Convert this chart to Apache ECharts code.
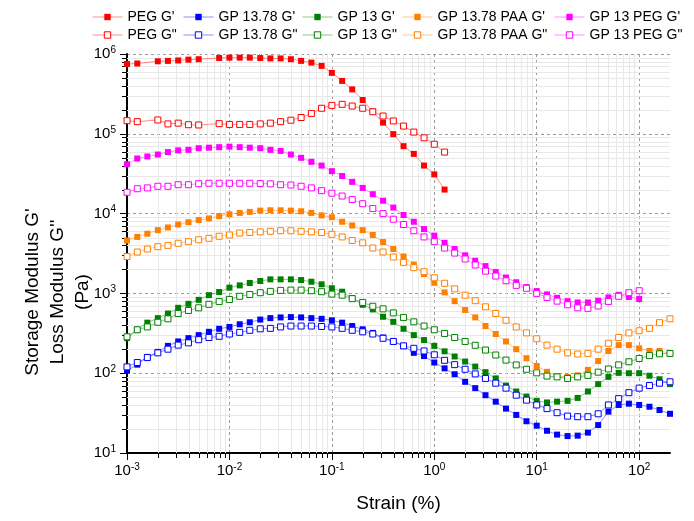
<!DOCTYPE html>
<html>
<head>
<meta charset="utf-8">
<script src="https://cdn.jsdelivr.net/npm/echarts@6/dist/echarts.min.js"></script>
<style>
  html, body { margin: 0; padding: 0; background: #fff; }
  #chart { width: 694px; height: 521px; }
</style>
</head>
<body>
<div id="chart"></div>
<script>
// Strain amplitude sweep points (%), ten per decade
const strain = [
  0.001, 0.00126, 0.00158, 0.002, 0.00251, 0.00316, 0.00398, 0.00501, 0.00631, 0.00794,
  0.01, 0.0126, 0.0158, 0.02, 0.0251, 0.0316, 0.0398, 0.0501, 0.0631, 0.0794,
  0.1, 0.126, 0.158, 0.2, 0.251, 0.316, 0.398, 0.501, 0.631, 0.794,
  1, 1.26, 1.58, 2, 2.51, 3.16, 3.98, 5.01, 6.31, 7.94,
  10, 12.6, 15.8, 20, 25.1, 31.6, 39.8, 50.1, 63.1, 79.4,
  100, 126, 158, 200
];

// Storage modulus G' (Pa)
const pegStorage = [
  7.5e5, 7.6e5, null, 8.1e5, 8.2e5, 8.3e5, 8.5e5, 8.6e5, null, 8.9e5,
  9.0e5, 9.0e5, 9.0e5, 8.9e5, 8.8e5, 8.8e5, 8.6e5, 8.2e5, 7.8e5, 7.1e5,
  5.8e5, 4.6e5, 3.6e5, 2.65e5, 1.9e5, 1.38e5, 9.9e4, 7.0e4, 5.6e4, 4.0e4,
  3.1e4, 2.0e4
];
const gp1378Storage = [
  108, 128, 160, 185, 220, 250, 275, 300, 330, 360,
  380, 410, 435, 470, 490, 500, 505, 500, 490, 480,
  460, 430, 390, 355, 320, 280, 250, 220, 180, 164,
  136, 115, 97, 78, 65, 53, 44, 36, 30, 25,
  22, 19, 17, 16.3, 16.5, 18, 22.4, 33, 40, 41.5,
  40, 38, 34.6, 31
];
const gp13Storage = [
  275, 350, 430, 490, 560, 660, 740, 830, 950, 1040,
  1180, 1260, 1350, 1430, 1500, 1500, 1500, 1470, 1400, 1300,
  1160, 1050, 870, 720, 630, 510, 440, 360, 300, 260,
  220, 188, 162, 140, 121, 103, 86, 70, 59, 51,
  45, 43, 44, 45, 49, 59, 73, 90, 101, 100,
  100, 93, 84, 73
];
const gp1378PaaStorage = [
  4600, 5100, 5600, 6200, 6700, 7300, 7800, 8300, 8700, 9300,
  9800, 10200, 10500, 10900, 11000, 11000, 10900, 10700, 10200, 9500,
  9000, 7900, 7100, 6200, 5400, 4400, 3600, 2900, 2300, 1750,
  1360, 1030, 800, 620, 500, 390, 310, 250, 200, 154,
  123, 104, 92, 90, 94, 110, 142, 190, 225, 225,
  205, 190, 190, 177
];
const gp13PegStorage = [
  4.15e4, 4.9e4, 5.2e4, 5.5e4, 5.9e4, 6.2e4, 6.3e4, 6.6e4, 6.7e4, 6.8e4,
  6.9e4, 6.8e4, 6.7e4, 6.6e4, 6.3e4, 6.1e4, 5.5e4, 5.0e4, 4.45e4, 4.0e4,
  3.4e4, 2.96e4, 2.5e4, 2.1e4, 1.75e4, 1.45e4, 1.19e4, 9600, 7900, 6400,
  5300, 4300, 3600, 3000, 2570, 2200, 1850, 1580, 1380, 1200,
  1070, 970, 880, 800, 770, 770, 810, 890, 960, 900,
  850
];

// Loss modulus G'' (Pa)
const pegLoss = [
  1.46e5, 1.42e5, null, 1.49e5, 1.33e5, 1.36e5, 1.30e5, 1.29e5, null, 1.34e5,
  1.31e5, 1.31e5, 1.31e5, 1.33e5, 1.36e5, 1.42e5, 1.48e5, 1.6e5, 1.8e5, 2.09e5,
  2.27e5, 2.34e5, 2.23e5, 2.09e5, 1.89e5, 1.67e5, 1.45e5, 1.25e5, 1.05e5, 8.9e4,
  7.4e4, 5.9e4
];
const gp1378Loss = [
  120, 136, 157, 180, 200, 225, 240, 263, 280, 290,
  310, 325, 345, 360, 365, 380, 390, 390, 390, 385,
  380, 365, 345, 330, 310, 274, 250, 220, 205, 190,
  170, 145, 128, 112, 98, 86, 75, 65, 53, 46,
  40, 36, 32, 29, 28.5, 28.5, 31, 40, 48, 57,
  65, 70, 75, 78
];
const gp13Loss = [
  286, 350, 380, 435, 480, 560, 610, 660, 730, 790,
  840, 920, 970, 1020, 1060, 1090, 1100, 1100, 1080, 1050,
  980, 950, 860, 770, 690, 640, 570, 500, 440, 390,
  350, 315, 280, 250, 224, 195, 169, 146, 127, 112,
  101, 92, 90, 86, 90, 94, 103, 113, 127, 139,
  153, 166, 175, 177
];
const gp1378PaaLoss = [
  2900, 3300, 3600, 3850, 4000, 4250, 4450, 4700, 4900, 5200,
  5400, 5700, 5800, 5900, 6000, 6100, 6100, 6000, 5900, 5800,
  5500, 5100, 4600, 4300, 3700, 3300, 2860, 2450, 2100, 1870,
  1570, 1340, 1140, 950, 810, 680, 560, 460, 380, 320,
  270, 225, 200, 180, 174, 177, 200, 237, 280, 320,
  340, 365, 430, 480
];
const gp13PegLoss = [
  1.85e4, 2.05e4, 2.1e4, 2.2e4, 2.2e4, 2.3e4, 2.3e4, 2.37e4, 2.4e4, 2.4e4,
  2.4e4, 2.4e4, 2.4e4, 2.38e4, 2.36e4, 2.3e4, 2.28e4, 2.2e4, 2.1e4, 1.94e4,
  1.8e4, 1.66e4, 1.5e4, 1.33e4, 1.16e4, 1.0e4, 8500, 7300, 6100, 5100,
  4450, 3700, 3200, 2700, 2270, 1900, 1650, 1440, 1260, 1160,
  1000, 890, 800, 720, 660, 650, 695, 790, 920, 1020,
  1080
];

const seriesNames = [
  "PEG G'", "GP 13.78 G'", "GP 13 G'", "GP 13.78 PAA G'", "GP 13 PEG G'",
  "PEG G\"", "GP 13.78 G\"", "GP 13 G\"", "GP 13.78 PAA G\"", "GP 13 PEG G\""
];
const seriesValues = [
  pegStorage, gp1378Storage, gp13Storage, gp1378PaaStorage, gp13PegStorage,
  pegLoss, gp1378Loss, gp13Loss, gp1378PaaLoss, gp13PegLoss
];
const seriesColors = ['#ff0000', '#0000ff', '#008000', '#ff8000', '#ff00ff'];

const xTitle = 'Strain (%)';
const yTitle = "Storage Modulus G'\nLoss Modulus G''\n(Pa)";

// Minor tick multipliers inside each decade
const minorSteps = [2, 3, 4, 5, 6, 7, 8, 9];
const xDecades = [1e-3, 1e-2, 1e-1, 1, 10, 100];
const yDecades = [10, 100, 1e3, 1e4, 1e5];

const X_MIN = 1e-3, X_MAX = 200, Y_MIN = 10, Y_MAX = 1e6;
const FONT = "'Liberation Sans', Arial, Helvetica, sans-serif";

const xMinor = [];
xDecades.forEach(d => minorSteps.forEach(m => { const v = d * m; if (v < X_MAX) xMinor.push(v); }));
const yMinor = [];
yDecades.forEach(d => minorSteps.forEach(m => yMinor.push(d * m)));

function crisp(v) { return Math.round(v) + 0.5; }

function powerLabel(v) {
  const lg = Math.log10(v);
  const e = Math.round(lg);
  if (Math.abs(lg - e) > 1e-6) return '';
  return '{b|10}{s|' + e + '}';
}
const labelRich = {
  b: { fontSize: 15, color: '#000', fontFamily: FONT, lineHeight: 18 },
  s: { fontSize: 10, color: '#000', fontFamily: FONT, verticalAlign: 'top', lineHeight: 10 }
};

const legendCols = [92, 183, 302, 402, 554];
const legendRows = [10, 28];

const lineSeries = seriesNames.map((name, i) => {
  const color = seriesColors[i % 5];
  const filled = i < 5;
  const vals = seriesValues[i];
  return {
    name: name,
    type: 'line',
    data: vals.map((v, k) => [strain[k], v]),
    symbol: 'rect',
    symbolSize: 6,
    connectNulls: true,
    clip: false,
    z: 3,
    itemStyle: filled
      ? { color: color }
      : { color: '#ffffff', borderColor: color, borderWidth: 1 },
    lineStyle: { color: color, width: 1, opacity: 0.45 },
    emphasis: { disabled: true }
  };
});

const legends = seriesNames.map((name, i) => {
  const color = seriesColors[i % 5];
  const filled = i < 5;
  return {
    data: [name],
    left: legendCols[i % 5],
    top: legendRows[Math.floor(i / 5)],
    padding: 0,
    itemWidth: 30,
    itemHeight: 8,
    selectedMode: false,
    textStyle: { fontSize: 14, color: '#000', fontFamily: FONT },
    itemStyle: filled
      ? { color: color, borderWidth: 0 }
      : { color: '#ffffff', borderColor: color, borderWidth: 1 },
    lineStyle: { color: color, width: 1, opacity: 0.45 }
  };
});

// Minor grid lines and outward minor ticks placed through the log axes
const minorXSeries = {
  type: 'custom',
  silent: true,
  clip: false,
  z: 1,
  data: xMinor.map(v => [v, Y_MIN]),
  encode: { x: 0, y: 1 },
  renderItem: function (params, api) {
    const v = api.value(0);
    const top = api.coord([v, Y_MAX]);
    const bot = api.coord([v, Y_MIN]);
    const x = crisp(bot[0]);
    return {
      type: 'group',
      children: [
        { type: 'line', shape: { x1: x, y1: top[1], x2: x, y2: bot[1] }, style: { stroke: '#e8e8e8', lineWidth: 1 } },
        { type: 'line', shape: { x1: x, y1: bot[1] + 1, x2: x, y2: bot[1] + 5 }, style: { stroke: '#000', lineWidth: 1 } }
      ]
    };
  }
};
const minorYSeries = {
  type: 'custom',
  silent: true,
  clip: false,
  z: 1,
  data: yMinor.map(v => [X_MIN, v]),
  encode: { x: 0, y: 1 },
  renderItem: function (params, api) {
    const v = api.value(1);
    const left = api.coord([X_MIN, v]);
    const right = api.coord([X_MAX, v]);
    const y = crisp(left[1]);
    return {
      type: 'group',
      children: [
        { type: 'line', shape: { x1: left[0], y1: y, x2: right[0], y2: y }, style: { stroke: '#e8e8e8', lineWidth: 1 } },
        { type: 'line', shape: { x1: left[0] - 5, y1: y, x2: left[0] - 1, y2: y }, style: { stroke: '#000', lineWidth: 1 } }
      ]
    };
  }
};

const chart = echarts.init(document.getElementById('chart'), null, { renderer: 'canvas' });
chart.setOption({
  animation: false,
  backgroundColor: '#ffffff',
  textStyle: { fontFamily: FONT },
  legend: legends,
  graphic: [{
    type: 'text',
    x: 58,
    y: 292,
    rotation: Math.PI / 2,
    silent: true,
    style: {
      text: yTitle,
      fontSize: 19,
      lineHeight: 25,
      fontFamily: FONT,
      fill: '#000',
      align: 'center',
      verticalAlign: 'middle'
    }
  }],
  grid: { left: 127, right: 24, top: 54, bottom: 68, containLabel: false },
  xAxis: {
    type: 'log',
    logBase: 10,
    min: X_MIN,
    max: X_MAX,
    name: xTitle,
    nameLocation: 'middle',
    nameGap: 41,
    nameTextStyle: { fontSize: 19, color: '#000', fontFamily: FONT },
    axisLine: { show: true, onZero: false, lineStyle: { color: '#000', width: 2 } },
    axisTick: { show: true, inside: false, length: 7, lineStyle: { color: '#000', width: 1 } },
    minorTick: { show: false },
    axisLabel: { formatter: powerLabel, rich: labelRich, margin: 9, showMaxLabel: false },
    splitLine: { show: true, showMinLine: false, showMaxLine: false, lineStyle: { color: '#9a9a9a', width: 1, type: [3, 3] } }
  },
  yAxis: {
    type: 'log',
    logBase: 10,
    min: Y_MIN,
    max: Y_MAX,
    axisLine: { show: true, onZero: false, lineStyle: { color: '#000', width: 2 } },
    axisTick: { show: true, inside: false, length: 7, lineStyle: { color: '#000', width: 1 } },
    minorTick: { show: false },
    axisLabel: { formatter: powerLabel, rich: labelRich, margin: 11 },
    splitLine: { show: true, showMinLine: false, lineStyle: { color: '#9a9a9a', width: 1, type: [3, 3] } }
  },
  series: [minorXSeries, minorYSeries].concat(lineSeries)
});
</script>
</body>
</html>
